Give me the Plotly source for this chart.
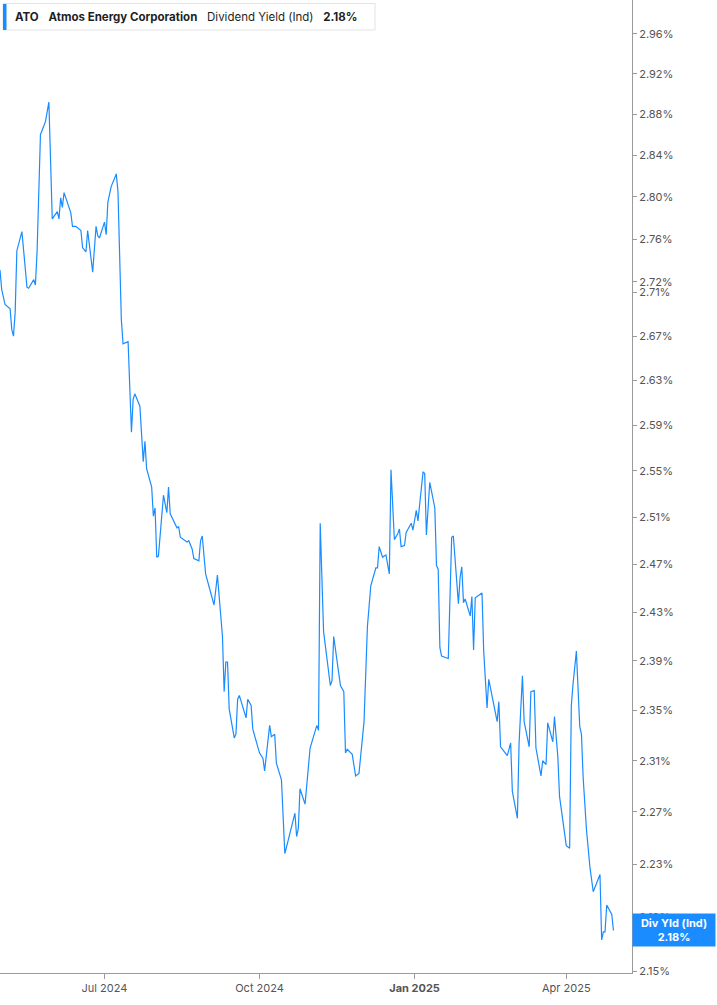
import plotly.graph_objects as go
import numpy as np

# Dividend yield (%), ATO, Apr 2024 - Apr 2025
dates = [
    "2024-04-30", "2024-05-01", "2024-05-03", "2024-05-06", "2024-05-07", "2024-05-08",
    "2024-05-09", "2024-05-10", "2024-05-13", "2024-05-16", "2024-05-17", "2024-05-20",
    "2024-05-21", "2024-05-22", "2024-05-24", "2024-05-27", "2024-05-29", "2024-05-31",
    "2024-06-03", "2024-06-04", "2024-06-05", "2024-06-06", "2024-06-07", "2024-06-11",
    "2024-06-12", "2024-06-14", "2024-06-17", "2024-06-18", "2024-06-20", "2024-06-21",
    "2024-06-24", "2024-06-26", "2024-06-27", "2024-06-28", "2024-07-01", "2024-07-02",
    "2024-07-03", "2024-07-05", "2024-07-08", "2024-07-09", "2024-07-11", "2024-07-12",
    "2024-07-15", "2024-07-17", "2024-07-18", "2024-07-19", "2024-07-22", "2024-07-24",
    "2024-07-25", "2024-07-26", "2024-07-29", "2024-07-30", "2024-07-31", "2024-08-01",
    "2024-08-02", "2024-08-05", "2024-08-07", "2024-08-08", "2024-08-09", "2024-08-13",
    "2024-08-14", "2024-08-15", "2024-08-19", "2024-08-20", "2024-08-22", "2024-08-23",
    "2024-08-26", "2024-08-27", "2024-08-28", "2024-08-30", "2024-09-04", "2024-09-06",
    "2024-09-09", "2024-09-10", "2024-09-11", "2024-09-12", "2024-09-13", "2024-09-16",
    "2024-09-17", "2024-09-18", "2024-09-19", "2024-09-23", "2024-09-24", "2024-09-26",
    "2024-09-27", "2024-10-01", "2024-10-03", "2024-10-04", "2024-10-07", "2024-10-08",
    "2024-10-10", "2024-10-11", "2024-10-14", "2024-10-16", "2024-10-18", "2024-10-22",
    "2024-10-23", "2024-10-24", "2024-10-25", "2024-10-28", "2024-10-31", "2024-11-04",
    "2024-11-05", "2024-11-06", "2024-11-08", "2024-11-12", "2024-11-13", "2024-11-14",
    "2024-11-18", "2024-11-20", "2024-11-21", "2024-11-22", "2024-11-25", "2024-11-27",
    "2024-11-29", "2024-12-02", "2024-12-04", "2024-12-06", "2024-12-09", "2024-12-10",
    "2024-12-11", "2024-12-13", "2024-12-14", "2024-12-15", "2024-12-17", "2024-12-18",
    "2024-12-20", "2024-12-22", "2024-12-23", "2024-12-24", "2024-12-26", "2024-12-27",
    "2024-12-30", "2024-12-31", "2025-01-02", "2025-01-03", "2025-01-06", "2025-01-07",
    "2025-01-08", "2025-01-10", "2025-01-13", "2025-01-14", "2025-01-15", "2025-01-16",
    "2025-01-17", "2025-01-21", "2025-01-23", "2025-01-24", "2025-01-27", "2025-01-28",
    "2025-01-29", "2025-01-30", "2025-01-31", "2025-02-03", "2025-02-04", "2025-02-05",
    "2025-02-06", "2025-02-10", "2025-02-11", "2025-02-13", "2025-02-14", "2025-02-18",
    "2025-02-19", "2025-02-20", "2025-02-21", "2025-02-25", "2025-02-27", "2025-02-28",
    "2025-03-03", "2025-03-04", "2025-03-06", "2025-03-07", "2025-03-10", "2025-03-11",
    "2025-03-13", "2025-03-14", "2025-03-17", "2025-03-18", "2025-03-20", "2025-03-21",
    "2025-03-24", "2025-03-25", "2025-03-27", "2025-03-28", "2025-03-31", "2025-04-01",
    "2025-04-03", "2025-04-04", "2025-04-05", "2025-04-07", "2025-04-09", "2025-04-10",
    "2025-04-11", "2025-04-13", "2025-04-15", "2025-04-17", "2025-04-21", "2025-04-22",
    "2025-04-23", "2025-04-24", "2025-04-25", "2025-04-28", "2025-04-29",
]
div_yield = [
    2.731, 2.713, 2.699, 2.695, 2.676, 2.670,
    2.692, 2.749, 2.767, 2.715, 2.714, 2.722,
    2.717, 2.748, 2.860, 2.873, 2.892, 2.779,
    2.786, 2.779, 2.799, 2.790, 2.804, 2.785,
    2.772, 2.772, 2.768, 2.752, 2.748, 2.768,
    2.729, 2.772, 2.763, 2.761, 2.776, 2.764,
    2.795, 2.810, 2.822, 2.805, 2.685, 2.663,
    2.665, 2.584, 2.613, 2.618, 2.607, 2.558,
    2.576, 2.552, 2.536, 2.511, 2.518, 2.476,
    2.477, 2.529, 2.514, 2.536, 2.513, 2.501,
    2.502, 2.493, 2.489, 2.490, 2.483, 2.475,
    2.473, 2.490, 2.494, 2.462, 2.436, 2.461,
    2.410, 2.365, 2.389, 2.389, 2.351, 2.328,
    2.331, 2.359, 2.362, 2.344, 2.359, 2.354,
    2.335, 2.316, 2.312, 2.302, 2.338, 2.329,
    2.331, 2.308, 2.295, 2.238, 2.248, 2.269,
    2.251, 2.257, 2.288, 2.276, 2.320, 2.338,
    2.334, 2.505, 2.414, 2.370, 2.374, 2.410,
    2.370, 2.365, 2.316, 2.319, 2.315, 2.298,
    2.300, 2.341, 2.418, 2.452, 2.467, 2.467,
    2.485, 2.476, 2.477, 2.478, 2.462, 2.551,
    2.491, 2.496, 2.500, 2.485, 2.486, 2.497,
    2.505, 2.499, 2.516, 2.507, 2.549, 2.548,
    2.495, 2.540, 2.518, 2.469, 2.466, 2.401,
    2.394, 2.392, 2.493, 2.494, 2.437, 2.459,
    2.468, 2.438, 2.441, 2.427, 2.443, 2.399,
    2.442, 2.446, 2.398, 2.352, 2.375, 2.348,
    2.341, 2.357, 2.321, 2.314, 2.324, 2.286,
    2.265, 2.324, 2.378, 2.341, 2.321, 2.365,
    2.366, 2.320, 2.298, 2.310, 2.307, 2.340,
    2.325, 2.345, 2.313, 2.282, 2.253, 2.244,
    2.242, 2.354, 2.371, 2.398, 2.337, 2.331,
    2.297, 2.256, 2.228, 2.209, 2.222, 2.173,
    2.179, 2.179, 2.199, 2.192, 2.180,
]

y_ticks = [2.15, 2.19, 2.23, 2.27, 2.31, 2.35, 2.39, 2.43, 2.47, 2.51, 2.55,
           2.59, 2.63, 2.67, 2.71, 2.72, 2.76, 2.80, 2.84, 2.88, 2.92, 2.96]
x_ticks = ["2024-07-01", "2024-10-01", "2025-01-01", "2025-04-01"]
x_tick_text = ["Jul 2024", "Oct 2024", "<b>Jan 2025</b>", "Apr 2025"]

last_value = div_yield[-1]
blue = "#1a8cff"
axis_grey = "#9a9a9a"

fig = go.Figure()

fig.add_trace(go.Scatter(
    x=dates,
    y=div_yield,
    mode="lines",
    line=dict(color=blue, width=1.2),
    name="Div Yld (Ind)",
    hovertemplate="%{x|%b %d, %Y}<br>%{y:.2f}%<extra></extra>",
))

fig.update_layout(
    width=717,
    height=1005,
    margin=dict(l=0, r=85, t=0, b=32),
    paper_bgcolor="white",
    plot_bgcolor="white",
    showlegend=False,
    font=dict(family="Inter, Roboto, sans-serif", size=11, color="#555555"),
    xaxis=dict(
        type="date",
        range=["2024-04-30", "2025-05-10"],
        tickvals=x_ticks,
        ticktext=x_tick_text,
        ticks="outside",
        ticklen=5,
        tickcolor=axis_grey,
        showgrid=False,
        showline=True,
        linecolor=axis_grey,
        linewidth=1,
        zeroline=False,
        tickfont=dict(size=11, color="#555555"),
    ),
    yaxis=dict(
        type="log",
        side="right",
        range=[np.log10(2.1486), np.log10(2.9945)],
        tickvals=y_ticks,
        ticktext=[f"{v:.2f}%" for v in y_ticks],
        ticks="outside",
        ticklen=4,
        tickcolor=axis_grey,
        showgrid=False,
        showline=True,
        linecolor=axis_grey,
        linewidth=1,
        zeroline=False,
        tickfont=dict(size=11, color="#555555"),
    ),
)

# header box, top left: white box + blue accent bar, text on top
fig.add_shape(
    type="rect", xref="paper", yref="paper",
    x0=0.0047, x1=0.5934, y0=0.9692, y1=0.9964,
    fillcolor="white", line=dict(color="#e3e3e3", width=1), layer="above",
)
fig.add_shape(
    type="rect", xref="paper", yref="paper",
    x0=0.0047, x1=0.0103, y0=0.9692, y1=0.9959,
    fillcolor=blue, line=dict(width=0), layer="above",
)
gap = "&nbsp;" * 3
fig.add_annotation(
    xref="paper", yref="paper", x=0.0206, y=0.9826,
    xanchor="left", yanchor="middle",
    text=(f"<b>ATO</b>{gap}<b>Atmos Energy Corporation</b>"
          f"{gap}Dividend Yield (Ind){gap}<b>{last_value:.2f}%</b>"),
    showarrow=False,
    align="left",
    font=dict(family="Inter, Roboto, sans-serif", size=11.5, color="#1f1f1f"),
)

# last value tag on the right axis
fig.add_annotation(
    xref="paper", yref="y", x=1.0, y=np.log10(last_value),
    xanchor="left", yanchor="middle",
    text=f"<b>Div Yld (Ind)</b><br><b>{last_value:.2f}%</b>",
    showarrow=False,
    align="center",
    width=78,
    font=dict(family="Inter, Roboto, sans-serif", size=11, color="white"),
    bgcolor=blue,
    borderpad=2,
)

# the page body has a default margin; drop it so the figure sits at the corner
fig.write_html(
    "out.html",
    config={"displayModeBar": False},
    post_script="document.body.style.margin='0';",
)
